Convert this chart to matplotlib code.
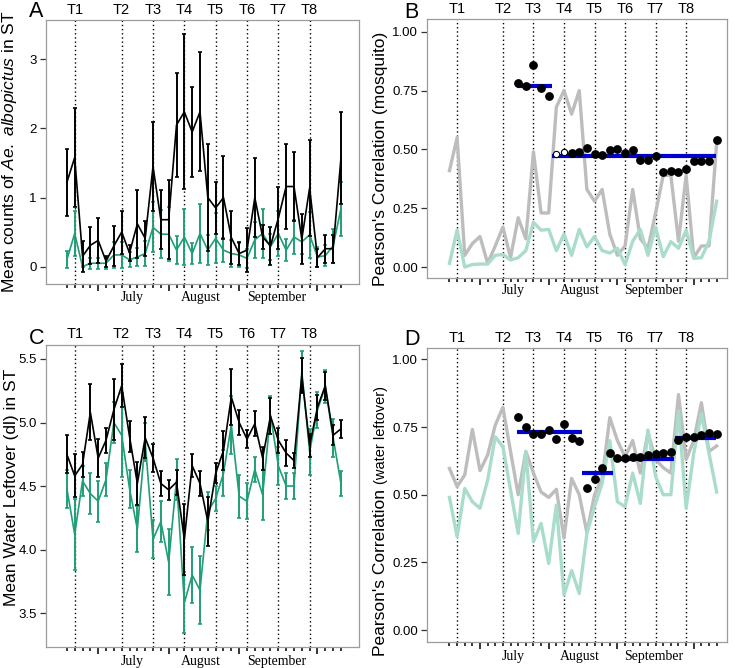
import numpy as np
import matplotlib
matplotlib.use('Agg')
import matplotlib.pyplot as plt
from matplotlib.transforms import blended_transform_factory

plt.rcParams['font.family'] = 'Liberation Sans'
plt.rcParams['mathtext.fontset'] = 'custom'
plt.rcParams['mathtext.rm'] = 'Liberation Sans'
plt.rcParams['mathtext.it'] = 'Liberation Sans:italic'

# sampling occasions (index of each survey day)
days = np.arange(36)
trial_pos = [1, 7, 11, 15, 19, 23, 27, 31]
trial_lab = ['T1', 'T2', 'T3', 'T4', 'T5', 'T6', 'T7', 'T8']
month_ticks = [4, 13, 22, 32]
month_pos = [8.3, 17.1, 26.8]
month_lab = ['July', 'August', 'September']

# A: mean mosquito counts
a_black = [1.22, 1.58, 0.15, 0.31, 0.38, 0.08, 0.30, 0.50, 0.20, 0.62, 0.41, 1.45, 0.68, 0.68,
           2.05, 2.24, 1.95, 2.24, 1.00, 0.85, 1.00, 0.42, 0.19, 0.24, 1.00, 0.43, 0.30, 0.70,
           1.16, 1.16, 0.40, 1.14, 0.13, 0.26, 0.26, 1.57]
a_black_se = [0.49, 0.72, 0.22, 0.27, 0.33, 0.08, 0.29, 0.31, 0.12, 0.49, 0.25, 0.65, 0.43, 0.57,
              0.75, 1.12, 0.65, 0.86, 0.77, 0.38, 0.60, 0.38, 0.17, 0.32, 0.57, 0.17, 0.28, 0.45,
              0.62, 0.50, 0.36, 0.70, 0.13, 0.20, 0.20, 0.67]
a_green = [0.10, 0.48, 0.00, 0.05, 0.05, 0.05, 0.17, 0.17, 0.10, 0.14, 0.19, 0.57, 0.47, 0.47,
           0.24, 0.43, 0.19, 0.48, 0.24, 0.41, 0.24, 0.19, 0.17, 0.12, 0.39, 0.48, 0.29, 0.48,
           0.24, 0.43, 0.36, 0.46, 0.14, 0.16, 0.30, 0.84]
a_green_se = [0.12, 0.33, 0.01, 0.08, 0.08, 0.08, 0.19, 0.19, 0.11, 0.13, 0.18, 0.36, 0.35, 0.39,
              0.20, 0.40, 0.15, 0.42, 0.22, 0.36, 0.17, 0.20, 0.18, 0.14, 0.26, 0.35, 0.19, 0.32,
              0.16, 0.25, 0.17, 0.33, 0.14, 0.15, 0.25, 0.39]

# C: mean water leftover
c_black = [4.75, 4.58, 4.67, 5.08, 4.72, 4.86, 5.10, 5.29, 4.89, 4.52, 4.88, 4.72, 4.52, 4.47,
           4.53, 4.08, 4.66, 4.52, 4.22, 4.60, 4.78, 5.20, 5.00, 4.87, 4.99, 4.72, 5.05, 4.86,
           4.76, 4.70, 5.37, 4.82, 5.12, 5.29, 4.90, 4.95]
c_black_se = [0.15, 0.17, 0.10, 0.22, 0.15, 0.10, 0.24, 0.17, 0.12, 0.17, 0.16, 0.11, 0.10, 0.08,
              0.10, 0.28, 0.09, 0.10, 0.19, 0.08, 0.15, 0.22, 0.10, 0.07, 0.10, 0.09, 0.14, 0.10,
              0.10, 0.06, 0.14, 0.09, 0.10, 0.11, 0.08, 0.07]
c_green = [4.48, 4.12, 4.54, 4.44, 4.38, 4.55, 5.00, 4.90, 4.48, 4.16, 4.85, 4.08, 4.22, 3.90,
           4.55, 3.58, 3.80, 3.68, 4.30, 4.40, 4.60, 4.98, 4.42, 4.38, 4.63, 4.43, 5.06, 4.66,
           4.50, 4.50, 5.40, 4.77, 5.10, 5.28, 4.88, 4.52]
c_green_se = [0.15, 0.28, 0.12, 0.16, 0.16, 0.13, 0.16, 0.33, 0.15, 0.18, 0.15, 0.15, 0.16, 0.26,
              0.16, 0.24, 0.22, 0.27, 0.15, 0.10, 0.18, 0.23, 0.17, 0.14, 0.10, 0.20, 0.15, 0.15,
              0.10, 0.10, 0.16, 0.18, 0.14, 0.13, 0.15, 0.10]

# B: correlations (mosquito)
b_gray = [0.41, 0.55, 0.05, 0.10, 0.13, 0.016, 0.09, 0.17, 0.04, 0.21, 0.12, 0.49, 0.23, 0.23,
          0.68, 0.75, 0.65, 0.75, 0.33, 0.28, 0.33, 0.14, 0.05, 0.09, 0.33, 0.12, 0.08, 0.23,
          0.39, 0.39, 0.11, 0.39, 0.04, 0.09, 0.09, 0.53]
b_green = [0.016, 0.157, 0.0, 0.011, 0.013, 0.013, 0.05, 0.054, 0.03, 0.04, 0.07, 0.19, 0.157, 0.16,
           0.07, 0.14, 0.05, 0.16, 0.086, 0.13, 0.07, 0.06, 0.08, 0.01, 0.11, 0.16, 0.05, 0.17,
           0.044, 0.108, 0.08, 0.157, 0.037, 0.04, 0.11, 0.28]
b_dot_idx = [9, 10, 11, 12, 13, 16, 17, 18, 19, 20, 21, 22, 23, 24, 25, 26, 27, 28, 29, 30,
             31, 32, 33, 34, 35]
b_dot_val = [0.783, 0.769, 0.858, 0.759, 0.727, 0.486, 0.49, 0.508, 0.48, 0.476, 0.497, 0.501,
             0.483, 0.497, 0.455, 0.455, 0.473, 0.405, 0.409, 0.402, 0.415, 0.452, 0.452, 0.452, 0.54]
b_open_idx = [14, 15]
b_open_val = [0.48, 0.49]
b_seg_start = [8.9, 13.4]
b_seg_end = [13.4, 34.9]
b_seg_val = [0.77, 0.472]

# D: correlations (water leftover)
d_gray = [0.597, 0.53, 0.573, 0.741, 0.589, 0.647, 0.757, 0.823, 0.66, 0.50, 0.66, 0.58, 0.51,
          0.49, 0.52, 0.34, 0.56, 0.50, 0.36, 0.50, 0.56, 0.785, 0.70, 0.64, 0.70, 0.58, 0.73,
          0.63, 0.60, 0.58, 0.87, 0.63, 0.70, 0.84, 0.66, 0.68]
d_green = [0.49, 0.345, 0.523, 0.474, 0.45, 0.554, 0.714, 0.677, 0.517, 0.357, 0.659, 0.326,
           0.394, 0.246, 0.462, 0.13, 0.22, 0.135, 0.357, 0.456, 0.542, 0.70, 0.474, 0.456, 0.58,
           0.468, 0.739, 0.567, 0.50, 0.50, 0.81, 0.45, 0.653, 0.80, 0.653, 0.51]
d_dot_idx = list(range(9, 36))
d_dot_val = [0.786, 0.751, 0.723, 0.723, 0.739, 0.706, 0.761, 0.711, 0.698, 0.526, 0.557, 0.597,
             0.655, 0.634, 0.634, 0.638, 0.64, 0.647, 0.649, 0.653, 0.656, 0.704, 0.712, 0.712,
             0.72, 0.727, 0.723]
d_seg_start = [8.9, 17.4, 21.5, 29.5]
d_seg_end = [17.4, 21.4, 29.4, 34.9]
d_seg_val = [0.733, 0.581, 0.631, 0.711]

green = '#1f9e78'
box_col = '#9c9c9c'


def style_axes(ax, xlim):
    ax.set_xlim(*xlim)
    for s in ax.spines.values():
        s.set_color(box_col)
        s.set_linewidth(0.9)
    ax.set_xticks(month_ticks)
    ax.set_xticklabels([])
    ax.set_xticks(days, minor=True)
    ax.tick_params(axis='x', which='major', length=5, width=1.1, color='black')
    ax.tick_params(axis='x', which='minor', length=2.6, width=1.1, color='black')
    ax.tick_params(axis='y', length=4.5, width=0.9, pad=2, labelsize=9.5, color='#333333')
    for p in trial_pos:
        ax.axvline(p, color='black', lw=1.0, ls=(0, (1, 2)), zorder=1)
    tr = blended_transform_factory(ax.transData, ax.transAxes)
    for p, t in zip(trial_pos, trial_lab):
        ax.text(p, 1.012, t, transform=tr, ha='center', va='bottom', fontsize=10.5)
    for p, m in zip(month_pos, month_lab):
        ax.text(p, -0.05, m, transform=tr, ha='center', va='center', fontsize=10,
                family='Liberation Serif')


fig = plt.figure(figsize=(7.35, 6.68), dpi=100)

axA = fig.add_axes([0.0622, 0.5749, 0.4262, 0.3952])
axB = fig.add_axes([0.5814, 0.5843, 0.4082, 0.3868])
axC = fig.add_axes([0.0622, 0.0319, 0.4262, 0.4516])
axD = fig.add_axes([0.5814, 0.0394, 0.4082, 0.4392])

# panel A
axA.errorbar(days, a_green, yerr=a_green_se, color=green, lw=1.2, elinewidth=1.4,
             capsize=1.6, capthick=1.2, zorder=3)
axA.errorbar(days, a_black, yerr=a_black_se, color='black', lw=1.2, elinewidth=1.4,
             capsize=1.6, capthick=1.2, zorder=4)
axA.set_ylim(-0.25, 3.57)
axA.set_yticks([0, 1, 2, 3])
style_axes(axA, (-2.7, 37.3))
axA.set_ylabel('Mean counts of $\\mathit{Ae.\\ albopictus}$ in ST', fontsize=12.5)
axA.yaxis.set_label_coords(-0.084, 0.5)

# panel C
axC.errorbar(days, c_green, yerr=c_green_se, color=green, lw=1.2, elinewidth=1.4,
             capsize=1.6, capthick=1.2, zorder=3)
axC.errorbar(days, c_black, yerr=c_black_se, color='black', lw=1.2, elinewidth=1.4,
             capsize=1.6, capthick=1.2, zorder=4)
axC.set_ylim(3.235, 5.61)
axC.set_yticks([3.5, 4.0, 4.5, 5.0, 5.5])
axC.set_yticklabels(['3.5', '4.0', '4.5', '5.0', '5.5'])
style_axes(axC, (-2.7, 37.3))
axC.set_ylabel('Mean Water Leftover (dl) in ST', fontsize=12.5)
axC.yaxis.set_label_coords(-0.084, 0.528)


def corr_panel(ax, gray_vals, green_vals, seg_s, seg_e, seg_v, dot_i, dot_v, ylim):
    ax.plot(days, gray_vals, color='#bdbdbd', lw=2.4, zorder=2)
    ax.plot(days, green_vals, color='#a9dccb', lw=2.4, zorder=2)
    ax.hlines(seg_v, seg_s, seg_e, color='#0000d0', lw=3, zorder=4)
    ax.plot(dot_i, dot_v, 'o', color='black', ms=5.3, zorder=5)
    ax.set_ylim(*ylim)
    ax.set_yticks([0, 0.25, 0.5, 0.75, 1.0])
    ax.set_yticklabels(['0.00', '0.25', '0.50', '0.75', '1.00'])
    style_axes(ax, (-2.9, 36.4))


corr_panel(axB, b_gray, b_green, b_seg_start, b_seg_end, b_seg_val, b_dot_idx, b_dot_val,
           (-0.045, 1.053))
axB.plot(b_open_idx, b_open_val, 'o', mfc='white', mec='black', ms=4.5, mew=0.8, zorder=5)
axB.set_ylabel("Pearson's Correlation (mosquito)", fontsize=12.5)
axB.yaxis.set_label_coords(-0.132, 0.46)

corr_panel(axD, d_gray, d_green, d_seg_start, d_seg_end, d_seg_val, d_dot_idx, d_dot_val,
           (-0.043, 1.041))
# two-part y label: the part in brackets is set smaller
lab_x = 388 / 735
t1 = fig.text(lab_x, 1 - 656 / 668, "Pearson's Correlation ", rotation=90,
              rotation_mode='anchor', ha='left', va='bottom', fontsize=12.5)
fig.canvas.draw()
bb = t1.get_window_extent().transformed(fig.transFigure.inverted())
fig.text(lab_x, bb.y1, "(water leftover)", rotation=90,
         rotation_mode='anchor', ha='left', va='bottom', fontsize=10.5)

for lab, x, y in [('A', 29, 17), ('B', 404, 18), ('C', 29, 344), ('D', 404, 345)]:
    fig.text(x / 735, 1 - y / 668, lab, fontsize=15.5, va='baseline', ha='left')

fig.savefig('out.png', dpi=100)
